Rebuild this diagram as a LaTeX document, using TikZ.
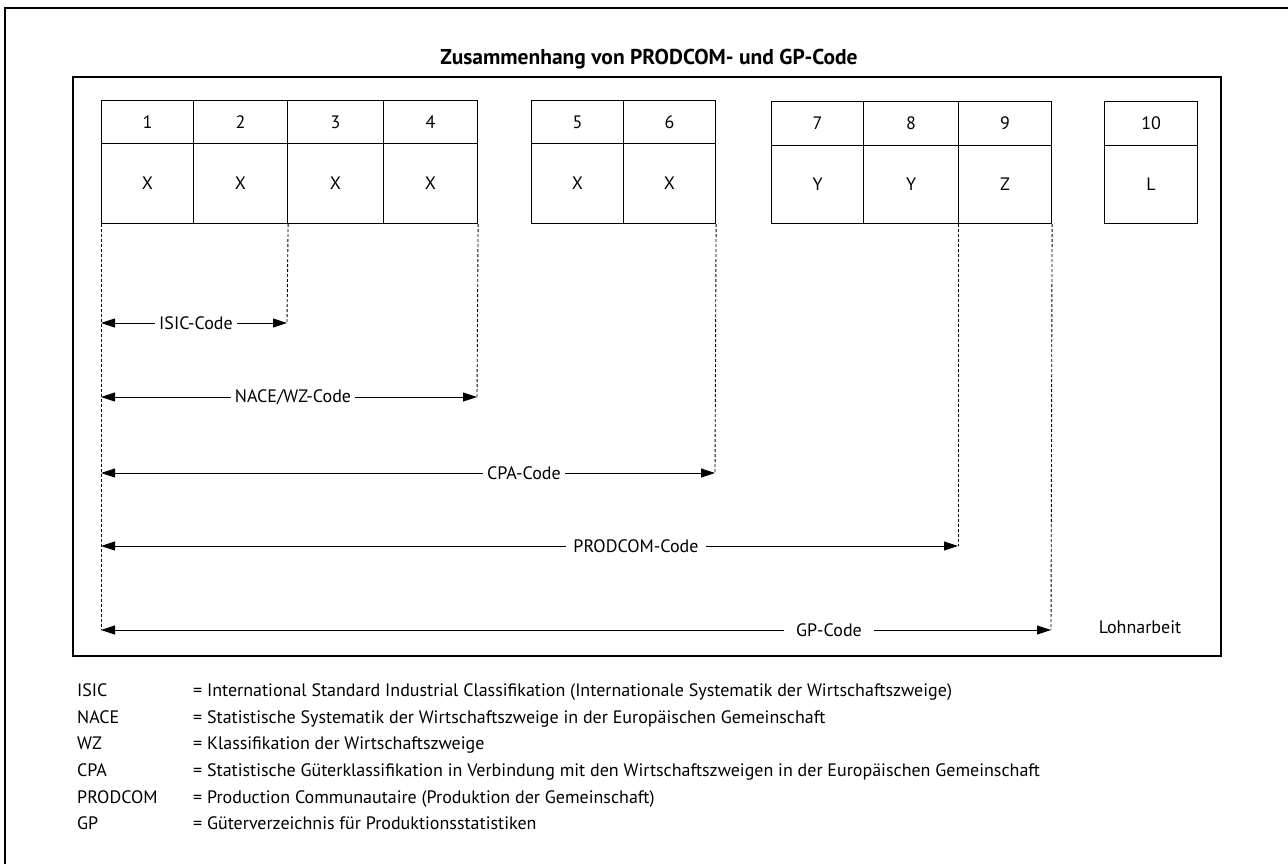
\documentclass[tikz,border=0pt]{standalone}
\usepackage{fontspec}
\setmainfont{PT Sans}
\usetikzlibrary{arrows.meta}

\tikzset{
  cell/.style={draw,line width=1.1pt,inner sep=0pt,anchor=north west,font=\fontsize{18}{21}\selectfont},
  numcell/.style={cell,minimum height=43pt},
  charcell/.style={cell,minimum height=80pt},
  numcellb/.style={cell,minimum height=44pt},
  charcellb/.style={cell,minimum height=78pt},
  guide/.style={line width=0.9pt,dash pattern=on 3pt off 2pt},
  dimline/.style={line width=0.9pt,{Triangle[length=14pt,width=9pt]}-{Triangle[length=14pt,width=9pt]}},
  codelabel/.style={fill=white,inner xsep=4pt,inner ysep=1pt,font=\fontsize{18}{21}\selectfont},
  abbr/.style={anchor=base west,inner sep=0pt,font=\fontsize{18}{21}\selectfont},
}

\begin{document}
\begin{tikzpicture}[x=1pt,y=-1pt]
\useasboundingbox (0,0) rectangle (1288,864);
\draw[line width=2pt] (5,870) -- (5,8) -- (1295,8);
\draw[line width=1.2pt] (73,77) rectangle (1221,656);
\node[font=\bfseries\fontsize{21.5}{25}\selectfont] (title) at (649,59) {Zusammenhang von PRODCOM- und GP-Code};

\node[numcell,minimum width=92pt] (n1) at (101,100) {1};
\node[numcell,minimum width=94pt] (n2) at (193,100) {2};
\node[numcell,minimum width=96pt] (n3) at (287,100) {3};
\node[numcell,minimum width=94pt] (n4) at (383,100) {4};
\node[charcell,minimum width=92pt] (x1) at (101,143) {X};
\node[charcell,minimum width=94pt] (x2) at (193,143) {X};
\node[charcell,minimum width=96pt] (x3) at (287,143) {X};
\node[charcell,minimum width=94pt] (x4) at (383,143) {X};

\node[numcell,minimum width=92pt] (n5) at (531,100) {5};
\node[numcell,minimum width=92pt] (n6) at (623,100) {6};
\node[charcell,minimum width=92pt] (x5) at (531,143) {X};
\node[charcell,minimum width=92pt] (x6) at (623,143) {X};

\node[numcellb,minimum width=92pt] (n7) at (771,101) {7};
\node[numcellb,minimum width=95pt] (n8) at (863,101) {8};
\node[numcellb,minimum width=93pt] (n9) at (958,101) {9};
\node[charcellb,minimum width=92pt] (y7) at (771,145) {Y};
\node[charcellb,minimum width=95pt] (y8) at (863,145) {Y};
\node[charcellb,minimum width=93pt] (z9) at (958,145) {Z};

\node[numcellb,minimum width=93pt] (n10) at (1104,101) {10};
\node[charcellb,minimum width=93pt] (l10) at (1104,145) {L};

\coordinate (isicL) at (101,323);
\coordinate (isicR) at (287,323);
\coordinate (naceL) at (101,397);
\coordinate (naceR) at (477,397);
\coordinate (cpaL) at (101,473);
\coordinate (cpaR) at (715,473);
\coordinate (prodL) at (101,546);
\coordinate (prodR) at (958,546);
\coordinate (gpL) at (101,630);
\coordinate (gpR) at (1051,630);

\draw[guide] (x1.south west) -- (gpL);
\draw[guide] (x2.south east) -- (isicR);
\draw[guide] (x4.south east) -- (naceR);
\draw[guide] (x6.south east) -- (cpaR);
\draw[guide] (z9.south west) -- (prodR);
\draw[guide] (z9.south east) -- (gpR);

\draw[dimline] (isicL) -- (isicR);
\draw[dimline] (naceL) -- (naceR);
\draw[dimline] (cpaL) -- (cpaR);
\draw[dimline] (prodL) -- (prodR);
\draw[dimline] (gpL) -- (gpR);

\node[codelabel] (isic) at (196,323) {ISIC-Code};
\node[codelabel] (nace) at (293,397) {NACE/WZ-Code};
\node[codelabel] (cpa) at (524,473) {CPA-Code};
\node[codelabel,inner xsep=7pt] (prod) at (636,546) {PRODCOM-Code};
\node[codelabel,inner xsep=12pt] (gp) at (829,630) {GP-Code};
\node[font=\fontsize{18}{21}\selectfont] (lohn) at (1140,627) {Lohnarbeit};

\node[abbr] (a1) at (77,696) {ISIC};
\node[abbr] (a2) at (77,723) {NACE};
\node[abbr] (a3) at (77,749) {WZ};
\node[abbr] (a4) at (77,776) {CPA};
\node[abbr] (a5) at (77,803) {PRODCOM};
\node[abbr] (a6) at (77,829) {GP};
\node[abbr] (d1) at (193,696) {= International Standard Industrial Classifikation (Internationale Systematik der Wirtschaftszweige)};
\node[abbr] (d2) at (193,723) {= Statistische Systematik der Wirtschaftszweige in der Europäischen Gemeinschaft};
\node[abbr] (d3) at (193,749) {= Klassifikation der Wirtschaftszweige};
\node[abbr] (d4) at (193,776) {= Statistische Güterklassifikation in Verbindung mit den Wirtschaftszweigen in der Europäischen Gemeinschaft};
\node[abbr] (d5) at (193,803) {= Production Communautaire (Produktion der Gemeinschaft)};
\node[abbr] (d6) at (193,829) {= Güterverzeichnis für Produktionsstatistiken};
\end{tikzpicture}
\end{document}
